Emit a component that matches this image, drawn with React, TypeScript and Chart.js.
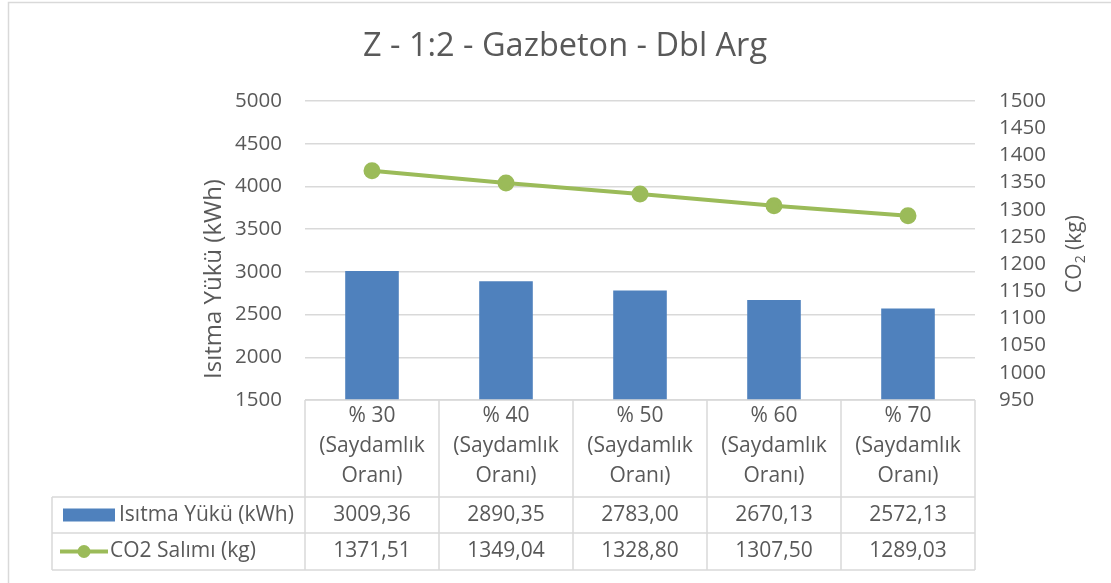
import React, { useEffect, useRef } from "react";
import { Chart, registerables } from "chart.js";

Chart.register(...registerables);

const chartTitle = "Z - 1:2 - Gazbeton - Dbl Arg";
const categories = ["% 30", "% 40", "% 50", "% 60", "% 70"];
const categorySubLines = ["(Saydamlık", "Oranı)"];
const heatingLoad = [3009.36, 2890.35, 2783.0, 2670.13, 2572.13];
const co2Emission = [1371.51, 1349.04, 1328.8, 1307.5, 1289.03];
const heatingLabel = "Isıtma Yükü (kWh)";
const co2Label = "CO2 Salımı (kg)";
const leftAxisTitle = "Isıtma Yükü (kWh)";

const FONT = "'Open Sans', sans-serif";
const TEXT = "#595959";
const GRID = "#D9D9D9";
const BLUE = "#4F81BD";
const GREEN = "#9BBB59";

const fmt = (v: number) => v.toFixed(2).replace(".", ",");

const decorPlugin = {
  id: "decor",
  beforeDraw(chart: any) {
    const ctx = chart.ctx;
    ctx.save();
    ctx.fillStyle = "#ffffff";
    ctx.fillRect(0, 0, chart.width, chart.height);
    ctx.restore();
  },
  afterDraw(chart: any) {
    const ctx = chart.ctx;
    const area = chart.chartArea;
    const x = chart.scales.x;
    ctx.save();
    // frame
    ctx.strokeStyle = GRID;
    ctx.lineWidth = 1.5;
    ctx.beginPath();
    ctx.moveTo(8.5, chart.height);
    ctx.lineTo(8.5, 2.5);
    ctx.lineTo(chart.width, 2.5);
    ctx.stroke();

    // title
    ctx.fillStyle = TEXT;
    ctx.font = `32.5px ${FONT}`;
    ctx.textAlign = "center";
    ctx.textBaseline = "middle";
    ctx.fillText(chartTitle, 565, 47);

    // left axis title
    ctx.save();
    ctx.translate(214, 279);
    ctx.rotate(-Math.PI / 2);
    ctx.font = `24px ${FONT}`;
    ctx.fillText(leftAxisTitle, 0, 0);
    ctx.restore();

    // right axis title CO2 (kg)
    ctx.save();
    ctx.translate(1075, 254);
    ctx.rotate(-Math.PI / 2);
    const p1 = "CO";
    const p3 = " (kg)";
    ctx.font = `21px ${FONT}`;
    const w1 = ctx.measureText(p1).width;
    const w3 = ctx.measureText(p3).width;
    ctx.font = `14px ${FONT}`;
    const w2 = ctx.measureText("2").width;
    const total = w1 + w2 + w3;
    let cx = -total / 2;
    ctx.textAlign = "left";
    ctx.font = `21px ${FONT}`;
    ctx.fillText(p1, cx, 0);
    cx += w1;
    ctx.font = `14px ${FONT}`;
    ctx.fillText("2", cx, 6);
    cx += w2;
    ctx.font = `21px ${FONT}`;
    ctx.fillText(p3, cx, 0);
    ctx.restore();

    // data table
    const n = categories.length;
    const colW = (area.right - area.left) / n;
    const top = area.bottom;
    const headerBottom = 497;
    const row1Bottom = 533;
    const row2Bottom = 570;
    const legendLeft = 52;

    ctx.strokeStyle = GRID;
    ctx.lineWidth = 1.5;
    ctx.beginPath();
    ctx.moveTo(area.left, top);
    ctx.lineTo(area.right, top);
    ctx.moveTo(legendLeft, headerBottom);
    ctx.lineTo(area.right, headerBottom);
    ctx.moveTo(legendLeft, row1Bottom);
    ctx.lineTo(area.right, row1Bottom);
    ctx.moveTo(legendLeft, row2Bottom);
    ctx.lineTo(area.right, row2Bottom);
    for (let i = 0; i <= n; i++) {
      const vx = area.left + i * colW;
      ctx.moveTo(vx, top);
      ctx.lineTo(vx, row2Bottom);
    }
    ctx.moveTo(legendLeft, headerBottom);
    ctx.lineTo(legendLeft, row2Bottom);
    ctx.stroke();

    ctx.fillStyle = TEXT;
    ctx.textAlign = "center";
    ctx.textBaseline = "middle";
    ctx.font = `21px ${FONT}`;
    const r1y = (headerBottom + row1Bottom) / 2;
    const r2y = (row1Bottom + row2Bottom) / 2;
    for (let i = 0; i < n; i++) {
      const cxp = x.getPixelForValue(i);
      ctx.fillText(categories[i], cxp, 416);
      ctx.fillText(categorySubLines[0], cxp, 446);
      ctx.fillText(categorySubLines[1], cxp, 476);
      ctx.fillText(fmt(heatingLoad[i]), cxp, r1y);
      ctx.fillText(fmt(co2Emission[i]), cxp, r2y);
    }

    // legend keys
    ctx.fillStyle = BLUE;
    ctx.fillRect(63, r1y - 6.5, 52, 13);
    ctx.strokeStyle = GREEN;
    ctx.lineWidth = 4;
    ctx.beginPath();
    ctx.moveTo(60, r2y);
    ctx.lineTo(108, r2y);
    ctx.stroke();
    ctx.fillStyle = GREEN;
    ctx.beginPath();
    ctx.arc(84, r2y, 6.5, 0, Math.PI * 2);
    ctx.fill();

    ctx.fillStyle = TEXT;
    ctx.textAlign = "left";
    ctx.fillText(heatingLabel, 119, r1y);
    ctx.fillText(co2Label, 110, r2y);
    ctx.restore();
  },
};

export default function App() {
  const ref = useRef<HTMLCanvasElement | null>(null);
  useEffect(() => {
    if (!ref.current) return;
    const chart = new Chart(ref.current, {
      type: "bar",
      data: {
        labels: categories,
        datasets: [
          {
            type: "line",
            label: co2Label,
            data: co2Emission,
            yAxisID: "y1",
            borderColor: GREEN,
            backgroundColor: GREEN,
            borderWidth: 4,
            pointRadius: 6.5,
            pointHoverRadius: 6.5,
            pointBackgroundColor: GREEN,
            pointBorderColor: GREEN,
            order: 0,
          } as any,
          {
            type: "bar",
            label: heatingLabel,
            data: heatingLoad,
            yAxisID: "y",
            backgroundColor: BLUE,
            barPercentage: 0.4,
            categoryPercentage: 1,
            order: 1,
          } as any,
        ],
      },
      options: {
        animation: false,
        responsive: false,
        layout: { padding: { top: 101, bottom: 183, left: 0, right: 0 } },
        plugins: {
          legend: { display: false },
          title: { display: false },
          tooltip: { enabled: false },
        },
        scales: {
          x: { display: false, offset: true },
          y: {
            position: "left",
            min: 1500,
            max: 5000,
            ticks: {
              stepSize: 500,
              autoSkip: false,
              color: TEXT,
              font: { family: FONT, size: 20.5 },
              padding: 23,
              callback: (v: any) => String(v),
            },
            grid: { color: GRID, lineWidth: 1.5, drawTicks: false },
            border: { display: false },
            afterFit: (s: any) => {
              s.width = 305;
            },
          },
          y1: {
            position: "right",
            min: 950,
            max: 1500,
            ticks: {
              stepSize: 50,
              autoSkip: false,
              color: TEXT,
              font: { family: FONT, size: 20.5 },
              padding: 24,
              callback: (v: any) => String(v),
            },
            grid: { display: false, drawTicks: false },
            border: { display: false },
            afterFit: (s: any) => {
              s.width = 136;
            },
          },
        },
      },
      plugins: [decorPlugin],
    });
    return () => chart.destroy();
  }, []);
  return (
    <div style={{ position: "absolute", left: 0, top: 0, width: 1111, height: 583, background: "#fff" }}>
      <canvas ref={ref} width={1111} height={583} style={{ display: "block" }} />
    </div>
  );
}
